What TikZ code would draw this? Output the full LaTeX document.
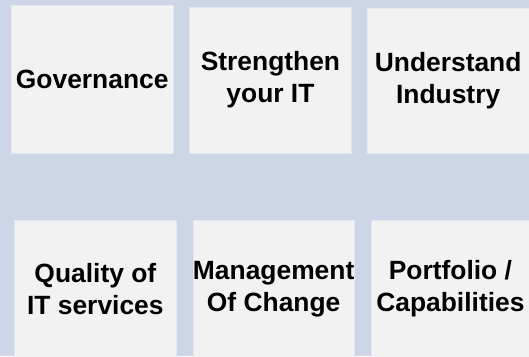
\documentclass[tikz,border=0pt]{standalone}
\usepackage{fontspec}
\setmainfont{Liberation Sans}
\definecolor{bg}{RGB}{205,214,231}
\definecolor{boxfill}{RGB}{242,242,242}
\definecolor{boxline}{RGB}{226,231,240}
\begin{document}
\begin{tikzpicture}[x=1pt,y=-1pt,
  tile/.style={rectangle,fill=boxfill,draw=boxline,line width=0.8pt,
    minimum width=161.5pt,anchor=north west,inner sep=0pt,
    align=center,font=\fontsize{26.4}{32}\selectfont\bfseries}]
\fill[bg] (0,0) rectangle (529,356);
\useasboundingbox (0,0) rectangle (529,356);
\node[tile,minimum height=148pt] (gov) at (11.1,4.7) {Governance};
\node[tile,minimum height=146pt] (str) at (189.3,6.7) {Strengthen\\your IT};
\node[tile,minimum height=144.4pt] (und) at (367,8.3) {Understand\\Industry};
\node[tile,minimum height=137pt] (qual) at (14.2,220) {Quality of\\IT services};
\node[tile,minimum height=137pt] (mgmt) at (192.5,220) {Management\\Of Change};
\node[tile,minimum height=137pt,minimum width=158pt] (port) at (371,220) {Portfolio /\\Capabilities};
\end{tikzpicture}
\end{document}
